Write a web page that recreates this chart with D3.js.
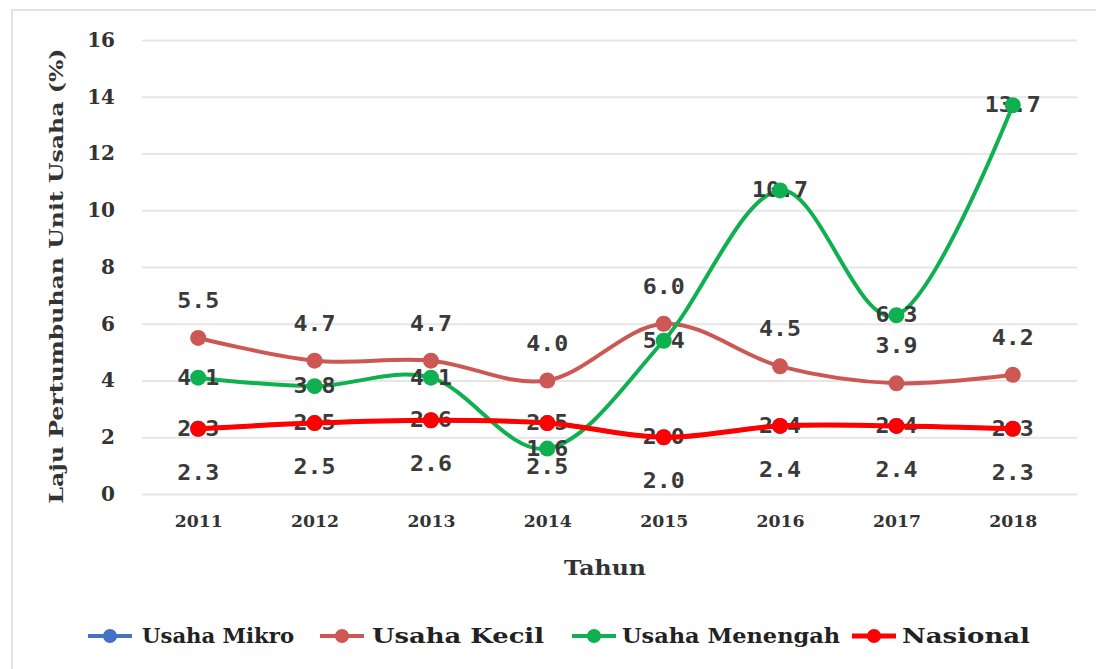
<!DOCTYPE html>
<html>
<head>
<meta charset="utf-8">
<script src="https://cdn.jsdelivr.net/npm/d3@7"></script>
<style>
  html, body { margin: 0; padding: 0; background: #fff; }
  svg { display: block; }
</style>
</head>
<body>
<svg id="chart" width="1096" height="669"></svg>
<script>
// Growth rate of business units by enterprise size, 2011-2018
const years = ["2011", "2012", "2013", "2014", "2015", "2016", "2017", "2018"];
const usahaMikro    = [2.3, 2.5, 2.6, 2.5, 2.0, 2.4, 2.4, 2.3];
const usahaKecil    = [5.5, 4.7, 4.7, 4.0, 6.0, 4.5, 3.9, 4.2];
const usahaMenengah = [4.1, 3.8, 4.1, 1.6, 5.4, 10.7, 6.3, 13.7];
const nasional      = [2.3, 2.5, 2.6, 2.5, 2.0, 2.4, 2.4, 2.3];
const yTicks = [0, 2, 4, 6, 8, 10, 12, 14, 16];
const seriesNames = ["Usaha Mikro", "Usaha Kecil", "Usaha Menengah", "Nasional"];

const svg = d3.select("#chart");
const W = 1096, H = 669;
const plot = { left: 140, right: 1075, top: 40, bottom: 494 };

const serifBold = "'DejaVu Serif', 'Liberation Serif', serif";
const labelFont = "'DejaVu Sans Mono', 'Liberation Mono', monospace";
const textColor = "#333";

// light frame along the top and left edges
svg.append("path")
  .attr("d", `M12,${H} L12,10 L${W},10`)
  .attr("fill", "none")
  .attr("stroke", "#e2e2e2")
  .attr("stroke-width", 2);

const x = d3.scalePoint().domain(years).range([plot.left, plot.right - 4]).padding(0.5);
const y = d3.scaleLinear().domain([0, 16]).range([plot.bottom, plot.top]);

// y axis with horizontal gridlines
const yAxis = svg.append("g")
  .attr("transform", `translate(${plot.left + 2},0)`)
  .call(d3.axisLeft(y).tickValues(yTicks).tickFormat(d3.format("d"))
    .tickSize(-(plot.right - plot.left)).tickPadding(27));
yAxis.select(".domain").remove();
yAxis.selectAll(".tick line").attr("stroke", "#e6e6e6").attr("stroke-width", 2);
yAxis.selectAll(".tick text")
  .attr("fill", textColor)
  .style("font-family", serifBold)
  .style("font-weight", "bold")
  .style("font-size", "20px");

// x axis labels
const xAxis = svg.append("g")
  .attr("transform", `translate(0,${plot.bottom})`)
  .call(d3.axisBottom(x).tickSize(0).tickPadding(22));
xAxis.select(".domain").remove();
xAxis.selectAll(".tick text")
  .attr("fill", textColor)
  .style("font-family", serifBold)
  .style("font-weight", "bold")
  .style("font-size", "16px")
  .attr("textLength", 48)
  .attr("lengthAdjust", "spacingAndGlyphs");

// axis titles
svg.append("text")
  .attr("x", 605).attr("y", 575)
  .attr("text-anchor", "middle")
  .attr("fill", textColor)
  .style("font-family", serifBold)
  .style("font-weight", "bold")
  .style("font-size", "20px")
  .attr("textLength", 82)
  .attr("lengthAdjust", "spacingAndGlyphs")
  .text("Tahun");

svg.append("text")
  .attr("transform", "translate(63,276) rotate(-90)")
  .attr("text-anchor", "middle")
  .attr("fill", textColor)
  .style("font-family", serifBold)
  .style("font-weight", "bold")
  .style("font-size", "19px")
  .attr("textLength", 455)
  .attr("lengthAdjust", "spacingAndGlyphs")
  .text("Laju Pertumbuhan Unit Usaha (%)");

const series = [
  { name: seriesNames[0], values: usahaMikro,    color: "#4472C4", width: 4, r: 8, label: "center" },
  { name: seriesNames[1], values: usahaKecil,    color: "#CD5754", width: 4, r: 8, label: "above" },
  { name: seriesNames[2], values: usahaMenengah, color: "#0FB04F", width: 4, r: 8, label: "center" },
  { name: seriesNames[3], values: nasional,      color: "#FF0000", width: 5, r: 8, label: "below" }
];

const line = d3.line()
  .x((d, i) => x(years[i]))
  .y(d => y(d))
  .curve(d3.curveCardinal.tension(0));

function drawLabels(g, s) {
  const dy = s.label === "above" ? -37 : s.label === "below" ? 44 : 0;
  g.selectAll("text.lbl").data(s.values).join("text")
    .attr("class", "lbl")
    .attr("x", (d, i) => x(years[i]))
    .attr("y", d => y(d) + dy)
    .attr("text-anchor", "middle")
    .attr("dominant-baseline", "central")
    .attr("fill", "#3a3a3a")
    .style("font-family", labelFont)
    .style("font-weight", "bold")
    .style("font-size", "21px")
    .attr("textLength", d => d3.format(".1f")(d).length > 3 ? 56 : 42)
    .attr("lengthAdjust", "spacingAndGlyphs")
    .text(d => d3.format(".1f")(d));
}

series.forEach(s => {
  const g = svg.append("g").attr("class", "series");
  g.append("path")
    .attr("d", line(s.values))
    .attr("fill", "none")
    .attr("stroke", s.color)
    .attr("stroke-width", s.width)
    .attr("stroke-linejoin", "round");
  // centred labels sit beneath the markers
  if (s.label === "center") drawLabels(g, s);
  g.selectAll("circle").data(s.values).join("circle")
    .attr("cx", (d, i) => x(years[i]))
    .attr("cy", d => y(d))
    .attr("r", s.r)
    .attr("fill", s.color);
  if (s.label !== "center") drawLabels(g, s);
});

// legend
const legendItems = [
  { s: series[0], x0: 88,  tx: 142, tw: 152 },
  { s: series[1], x0: 320, tx: 372, tw: 172 },
  { s: series[2], x0: 572, tx: 622, tw: 218 },
  { s: series[3], x0: 852, tx: 902, tw: 128 }
];
const legend = svg.append("g").attr("class", "legend");
legendItems.forEach(it => {
  const cy = 636;
  legend.append("line")
    .attr("x1", it.x0).attr("x2", it.x0 + 44)
    .attr("y1", cy).attr("y2", cy)
    .attr("stroke", it.s.color)
    .attr("stroke-width", it.s.width);
  legend.append("circle")
    .attr("cx", it.x0 + 22).attr("cy", cy).attr("r", 7)
    .attr("fill", it.s.color);
  legend.append("text")
    .attr("x", it.tx).attr("y", cy)
    .attr("dominant-baseline", "central")
    .attr("fill", "#222")
    .style("font-family", serifBold)
    .style("font-weight", "bold")
    .style("font-size", "20px")
    .attr("textLength", it.tw)
    .attr("lengthAdjust", "spacingAndGlyphs")
    .text(it.s.name);
});
</script>
</body>
</html>
